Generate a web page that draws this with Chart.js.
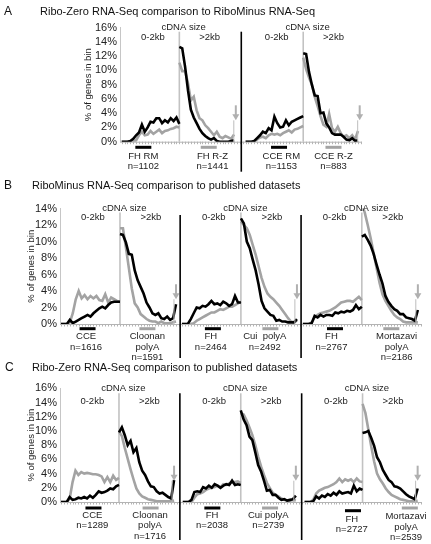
<!DOCTYPE html>
<html><head><meta charset="utf-8">
<script src="https://cdn.jsdelivr.net/npm/chart.js@4.4.1/dist/chart.umd.min.js"></script>
<style>
html,body{margin:0;padding:0;background:#fff;}
#wrap{position:relative;width:431px;height:544px;overflow:hidden;font-family:"Liberation Sans",Arial,sans-serif;color:#111;}
canvas{position:absolute;left:0;}
.t{position:absolute;white-space:nowrap;line-height:14px;}
</style></head><body>
<div id="wrap">
<canvas id="cA" width="431" height="178" style="top:0px"></canvas>
<canvas id="cB" width="431" height="184" style="top:176px"></canvas>
<canvas id="cC" width="431" height="184" style="top:360px"></canvas>
<div class="t" style="left:4px;top:4px;font-size:12px">A</div>
<div class="t" style="left:40px;top:4px;font-size:11px">Ribo-Zero RNA-Seq comparison to RiboMinus RNA-Seq</div>
<div class="t" style="left:4px;top:178px;font-size:12px">B</div>
<div class="t" style="left:32px;top:178px;font-size:11px">RiboMinus RNA-Seq comparison to published datasets</div>
<div class="t" style="left:5px;top:360px;font-size:12px">C</div>
<div class="t" style="left:32px;top:360px;font-size:11px">Ribo-Zero RNA-Seq comparison to published datasets</div>
</div>
<script>
// ---- bin positions (x categories) ----
const shortBinPos = [0,1,2,3,4,5,6,7,8,9,10,11,12,13,14,15,16,17,18,19,20];
const longBinPos  = [20,21,22,23,24,25,26,27,28,29,30,31,32,33,34,35,36,37,38,39];
const rangeLabels = ["cDNA size","0-2kb",">2kb"];
const yTitle = "% of genes in bin";

// ---- Panel A ----
const aFhRmShort  = [0,0,0,0.1,0.4,0.9,1.3,2.4,1.4,2.0,2.8,2.7,3.3,3.3,2.6,3.0,2.7,3.3,2.9,3.4,2.5];
const aFhRzShort  = [0,0,0,0,0,0.2,0.9,1.4,0.9,1.0,1.5,1.1,1.4,1.7,1.2,1.5,1.6,1.8,1.9,2.1,2.0];
const aFhRmLong   = [13.3,13.1,10.5,7.2,4.5,3.4,2.6,1.8,1.2,0.8,0.5,0.3,0.5,0.1,0,0,0,0,0.1,0.2];
const aFhRzLong   = [11.1,9.9,9.9,8.2,5.8,6.3,4.4,3.3,3.0,2.3,1.9,1.4,0.9,1.4,0.7,0.5,0.8,0.6,0.4,1.0];
const aCceRmShort = [0,0,0,0.1,0.5,0.9,1.4,1.2,1.9,1.6,3.5,2.6,2.0,2.1,3.0,2.3,2.8,3.0,3.2,3.4,3.6];
const aCceRzShort = [0,0,0,0,0.3,0.6,0.7,0.5,0.9,1.1,1.0,1.1,0.9,1.2,1.4,1.6,1.3,1.7,1.8,2.0,2.2];
const aCceRmLong  = [12.4,12.3,9.8,8.0,6.5,6.4,4.0,4.1,2.6,2.0,1.2,1.0,1.0,1.0,0.7,0.3,0.2,0.5,0.1,0.2];
const aCceRzLong  = [11.8,10.2,9.0,8.0,6.3,5.0,3.6,2.4,2.1,3.9,1.9,1.4,2.1,1.2,0.7,0.9,0.5,0.9,0.3,1.5];
const aLabels = [["FH RM","n=1102"],["FH R-Z","n=1441"],["CCE RM","n=1153"],["CCE R-Z","n=883"]];
const aTicks = [0,2,4,6,8,10,12,14,16];

// ---- Panel B ----
const bCceShort     = [0,0,0,0.5,0.1,0.3,0.5,0.7,0.9,1.1,0.9,1.3,1.6,1.9,2.1,1.9,2.3,2.6,2.7,2.7,2.7];
const bCloonanShort = [0,0,0,0.2,1.3,3.0,4.0,3.1,3.5,3.0,3.4,3.1,3.4,2.9,2.8,3.6,2.6,3.2,3.0,2.8,2.7];
const bCceLong      = [10.9,10.8,9.9,8.5,8.4,6.5,5.3,4.5,3.7,2.6,2.0,1.3,1.1,1.3,0.7,0.6,0.9,0.5,0.7,2.4];
const bCloonanLong  = [11.6,11.6,9.3,6.8,4.3,2.5,2.0,1.2,0.9,0.6,0.4,0.3,0.3,0.1,0.3,0.1,0.1,0.1,0.2,0.3];
const bFhShort      = [0,0,0,0.6,1.3,2.0,1.9,2.2,2.1,2.4,2.8,2.4,2.5,2.3,2.7,2.5,2.2,2.4,3.4,2.6,2.6];
const bCuiShort     = [0,0,0,0,0.1,0.4,0.6,0.8,1.0,1.2,1.4,1.4,1.6,1.8,1.7,1.9,2.1,2.1,2.3,2.5,2.7];
const bFhLong       = [12.8,12.2,10.0,9.2,7.8,6.5,4.8,2.8,1.9,1.5,1.1,1.0,0.4,0.5,0.3,0.3,0.2,0.2,0.2,0.6];
const bCuiLong      = [12.4,12.0,11.6,10.8,9.6,8.4,7.0,5.6,4.5,3.7,3.3,3.0,2.6,2.2,1.7,1.2,0.7,0.3,0.2,0.4];
const bFh2Short     = [0,0,0,0.1,1.0,0.8,1.1,0.9,1.1,1.1,1.0,1.4,1.3,1.5,1.4,1.6,1.5,1.7,2.3,1.8,2.1];
const bMortShort    = [0,0,0,0.2,0.8,1.1,1.3,1.4,1.5,1.6,1.8,2.0,2.3,2.6,2.7,2.8,2.8,2.7,3.0,3.3,2.9];
const bFh2Long      = [10.6,10.8,10.2,9.5,8.5,7.2,6.0,4.9,3.4,2.7,2.2,1.8,1.6,1.2,1.2,0.8,0.7,0.6,0.4,1.7];
const bMortLong     = [14.5,13.5,12.0,10.4,8.6,6.8,5.0,3.6,2.8,2.2,1.6,1.1,0.8,0.6,0.3,0.2,0.2,0.2,0.2,0.2];
const bLabels = [["CCE","n=1616"],["Cloonan","polyA","n=1591"],["FH","n=2464"],["Cui  polyA","n=2492"],["FH","n=2767"],["Mortazavi","polyA","n=2186"]];
const bTicks = [0,2,4,6,8,10,12,14];

// ---- Panel C ----
const cCceShort     = [0,0,0,0.7,0.3,0.4,0.6,0.5,0.7,0.5,0.9,0.6,1.0,1.5,1.3,1.4,1.6,1.9,1.8,2.2,2.4];
const cCloonanShort = [0,0,0,0.5,2.8,4.4,3.8,4.2,4.0,4.1,4.0,3.9,3.9,3.8,3.6,2.8,3.5,2.8,3.7,3.1,3.4];
const cCceLong      = [9.8,10.5,9.4,8.0,8.6,7.0,7.6,5.6,4.4,3.8,2.9,2.2,2.1,1.5,1.2,1.3,1.0,0.7,0.5,3.1];
const cCloonanLong  = [9.9,9.3,7.6,6.1,4.6,3.2,1.9,1.2,0.8,0.6,0.4,0.3,0.2,0.1,0.1,0.1,0.1,0.1,0.1,0.2];
const cFhShort      = [0,0,0,0.3,1.4,1.5,1.4,2.1,1.9,2.3,2.0,2.5,2.3,2.0,2.3,2.5,2.4,3.0,2.4,2.5,2.4];
const cCuiShort     = [0,0,0,0,0.6,1.1,1.2,1.4,1.7,1.9,2.0,2.1,2.3,2.1,2.5,2.4,2.6,2.8,2.8,2.9,2.7];
const cFhLong       = [12.9,11.6,10.8,9.2,8.7,7.0,5.2,4.3,3.0,1.6,1.7,1.0,1.0,0.6,0.3,0.4,0.2,0.3,0.4,0.9];
const cCuiLong      = [12.5,12.3,11.5,10.5,9.4,8.0,6.4,5.0,3.8,2.7,2.0,1.3,1.0,0.8,0.5,0.3,0.2,0.2,0.3,0.2];
const cFh2Short     = [0,0,0,0.1,0.8,0.5,0.9,0.7,1.1,0.9,1.3,1.0,1.5,1.2,1.3,1.4,1.2,2.3,1.5,1.9,1.7];
const cMortShort    = [0,0,0,0.3,1.2,1.6,1.8,2.0,2.1,2.3,2.5,2.8,3.3,2.8,3.2,3.0,3.2,2.8,3.3,2.9,2.8];
const cFh2Long      = [9.7,9.8,10.0,9.0,7.9,6.3,5.6,4.5,3.8,3.1,2.8,2.2,2.1,1.9,1.5,1.1,0.8,0.6,0.4,1.9];
const cMortLong     = [13.8,12.5,10.2,7.8,5.7,4.0,3.2,2.6,1.9,1.4,1.0,0.8,0.6,0.4,0.3,0.2,0.1,0.1,0.1,0.2];
const cLabels = [["CCE","n=1289"],["Cloonan","polyA","n=1716"],["FH","n=2038"],["Cui polyA","n=2739"],["FH","n=2727"],["Mortazavi","polyA","n=2539"]];
const cTicks = [0,2,4,6,8,10,12,14,16];

// ---- styling ----
const BLACK = '#000000', GREY = '#a3a3a3';
const FONT = '"Liberation Sans", Arial, sans-serif';

function seg(pos, vals, off){ return pos.map((p,i)=>({x:off+p, y:vals[i]})); }
function ds(data, color, order){
  return {data, borderColor:color, borderWidth:2.6, pointRadius:0, tension:0,
          fill:false, order, spanGaps:false, borderJoinStyle:'miter', borderCapStyle:'butt'};
}
function groupSets(off, kS, kL, gS, gL){
  return [ds(seg(shortBinPos,kS,off),BLACK,0), ds(seg(longBinPos,kL,off),BLACK,0),
          ds(seg(shortBinPos,gS,off),GREY,1), ds(seg(longBinPos,gL,off),GREY,1)];
}

const decor = {
  id:'decor',
  beforeDatasetsDraw(chart, args, o){
    const {ctx, chartArea:a, scales:{x,y}} = chart;
    ctx.save();
    ctx.strokeStyle = '#b4b4b4'; ctx.lineWidth = 1;
    ctx.beginPath(); ctx.moveTo(a.left, a.bottom+0.5); ctx.lineTo(a.right, a.bottom+0.5); ctx.stroke();
    ctx.beginPath();
    for (let u = Math.ceil(x.min); u <= x.max; u++){
      const px = Math.round(x.getPixelForValue(u))+0.5;
      ctx.moveTo(px, a.bottom); ctx.lineTo(px, a.bottom+2.5);
    }
    ctx.stroke();
    ctx.strokeStyle = '#c2c2c2'; ctx.lineWidth = 1.6;
    o.offsets.forEach(off=>{
      const px = x.getPixelForValue(off+20);
      ctx.beginPath(); ctx.moveTo(px, a.top+o.kbTop); ctx.lineTo(px, a.bottom); ctx.stroke();
    });
    ctx.restore();
  },
  afterDatasetsDraw(chart, args, o){
    const {ctx, chartArea:a, scales:{x,y}} = chart;
    ctx.save();
    o.offsets.forEach(off=>{
      const tip = y.getPixelForValue(3);
      const ax = x.getPixelForValue(off+o.arrowU);
      const lx = x.getPixelForValue(off+o.arrowU-0.7);
      ctx.strokeStyle = '#bdbdbd'; ctx.lineWidth = 1;
      ctx.beginPath(); ctx.moveTo(lx, tip); ctx.lineTo(lx, a.bottom); ctx.stroke();
      ctx.strokeStyle = '#b0b0b0'; ctx.lineWidth = 2;
      ctx.beginPath(); ctx.moveTo(ax, tip-15); ctx.lineTo(ax, tip-5); ctx.stroke();
      ctx.fillStyle = '#b0b0b0';
      ctx.beginPath(); ctx.moveTo(ax-3.5, tip-6); ctx.lineTo(ax+3.5, tip-6); ctx.lineTo(ax, tip); ctx.closePath(); ctx.fill();
    });
    ctx.strokeStyle = '#000'; ctx.lineWidth = 1.6;
    o.dividers.forEach(u=>{
      const px = x.getPixelForValue(u);
      ctx.beginPath(); ctx.moveTo(px, a.top+o.divTop); ctx.lineTo(px, a.bottom+o.divBottom); ctx.stroke();
    });
    ctx.fillStyle = '#222'; ctx.textAlign = 'center'; ctx.textBaseline = 'middle';
    ctx.font = '9.5px ' + FONT;
    o.offsets.forEach(off=>{
      ctx.fillText(rangeLabels[0], x.getPixelForValue(off+21.5), a.top+o.hdr[0]);
      ctx.fillText(rangeLabels[1], x.getPixelForValue(off+10.8), a.top+o.hdr[1]);
      ctx.fillText(rangeLabels[2], x.getPixelForValue(off+30.5), a.top+o.hdr[1]);
    });
    o.marks.forEach((m,i)=>{
      const bx = x.getPixelForValue(m.bu);
      ctx.fillStyle = m.c === 'k' ? BLACK : GREY;
      ctx.fillRect(bx-8, a.bottom+m.bdy-1.5, 16, 3);
      ctx.fillStyle = '#222';
      const tx = x.getPixelForValue(m.tu);
      o.labels[i].forEach((s,j)=> ctx.fillText(s, tx, a.bottom+m.tdy+j*10.5));
    });
    ctx.restore();
  }
};
Chart.register(decor);

function makeChart(id, sets, cfg){
  return new Chart(document.getElementById(id), {
    type:'line',
    data:{datasets:sets},
    options:{
      responsive:false, animation:false, devicePixelRatio:1,
      layout:{padding:cfg.pad},
      plugins:{legend:{display:false}, tooltip:{enabled:false}, decor:cfg.decor},
      scales:{
        x:{type:'linear', min:cfg.xMin, max:cfg.xMax, display:false},
        y:{type:'linear', min:0, max:cfg.yMax,
           afterFit:(s)=>{ s.width = cfg.yWidth; },
           afterBuildTicks:(s)=>{ s.ticks = cfg.ticks.map(v=>({value:v})); },
           grid:{display:false, drawTicks:false},
           border:{display:true, color:'#c6c6c6', width:1},
           ticks:{autoSkip:false, padding:3, color:'#222', font:{family:FONT, size:11}, callback:(v)=>v+'%'},
           title:{display:true, text:yTitle, color:'#222', font:{family:FONT, size:9.5}, padding:{top:4,bottom:4}}
        }
      }
    }
  });
}

makeChart('cA',
  [...groupSets(0, aFhRmShort, aFhRmLong, aFhRzShort, aFhRzLong),
   ...groupSets(43, aCceRmShort, aCceRmLong, aCceRzShort, aCceRzLong)],
  {pad:{left:78.8, top:27.7, right:69, bottom:36.3}, yWidth:41.2, xMin:-0.6, xMax:83.4, yMax:16, ticks:aTicks,
   decor:{offsets:[0,43], kbTop:4, arrowU:39.6, dividers:[41.5], divTop:4, divBottom:30, hdr:[0,10],
     labels:aLabels,
     marks:[{bu:7.5,tu:7.5,c:'k',bdy:5.6,tdy:14.3},{bu:30.2,tu:31.5,c:'g',bdy:5.6,tdy:14.3},
            {bu:54.6,tu:55.4,c:'k',bdy:5.6,tdy:14.3},{bu:73.5,tu:73.5,c:'g',bdy:5.6,tdy:14.3}]}});

makeChart('cB',
  [...groupSets(0, bCceShort, bCceLong, bCloonanShort, bCloonanLong),
   ...groupSets(41, bFhShort, bFhLong, bCuiShort, bCuiLong),
   ...groupSets(82, bFh2Short, bFh2Long, bMortShort, bMortLong)],
  {pad:{left:22, top:32.5, right:9.3, bottom:36}, yWidth:38, xMin:-0.34, xMax:122.3, yMax:14, ticks:bTicks,
   decor:{offsets:[0,41,82], kbTop:4, arrowU:39, dividers:[40.4,81.4], divTop:6.5, divBottom:34, hdr:[0,9],
     labels:bLabels,
     marks:[{bu:9,tu:8.5,c:'k',bdy:4.7,tdy:12.7},{bu:29.3,tu:29.3,c:'g',bdy:4.7,tdy:12.7},
            {bu:51.5,tu:50.8,c:'k',bdy:4.7,tdy:12.7},{bu:71,tu:69.1,c:'g',bdy:4.7,tdy:12.7},
            {bu:92.9,tu:91.7,c:'k',bdy:4.7,tdy:12.7},{bu:112,tu:113.8,c:'g',bdy:4.7,tdy:12.7}]}});

makeChart('cC',
  [...groupSets(0, cCceShort, cCceLong, cCloonanShort, cCloonanLong),
   ...groupSets(42, cFhShort, cFhLong, cCuiShort, cCuiLong),
   ...groupSets(84, cFh2Short, cFh2Long, cMortShort, cMortLong)],
  {pad:{left:22, top:28.3, right:9.3, bottom:42}, yWidth:38, xMin:-0.34, xMax:124.4, yMax:16, ticks:cTicks,
   decor:{offsets:[0,42,84], kbTop:5, arrowU:39, dividers:[41,83], divTop:5, divBottom:38, hdr:[0,13],
     labels:cLabels,
     marks:[{bu:11.2,tu:10.8,c:'k',bdy:6,tdy:13},{bu:30.9,tu:30.7,c:'g',bdy:6,tdy:13},
            {bu:52.2,tu:52.1,c:'k',bdy:6,tdy:13},{bu:72.1,tu:71.5,c:'g',bdy:6,tdy:13},
            {bu:100.7,tu:100.3,c:'k',bdy:8.7,tdy:17.3},{bu:120.3,tu:119,c:'g',bdy:6,tdy:14.7}]}});
</script>
</body></html>
